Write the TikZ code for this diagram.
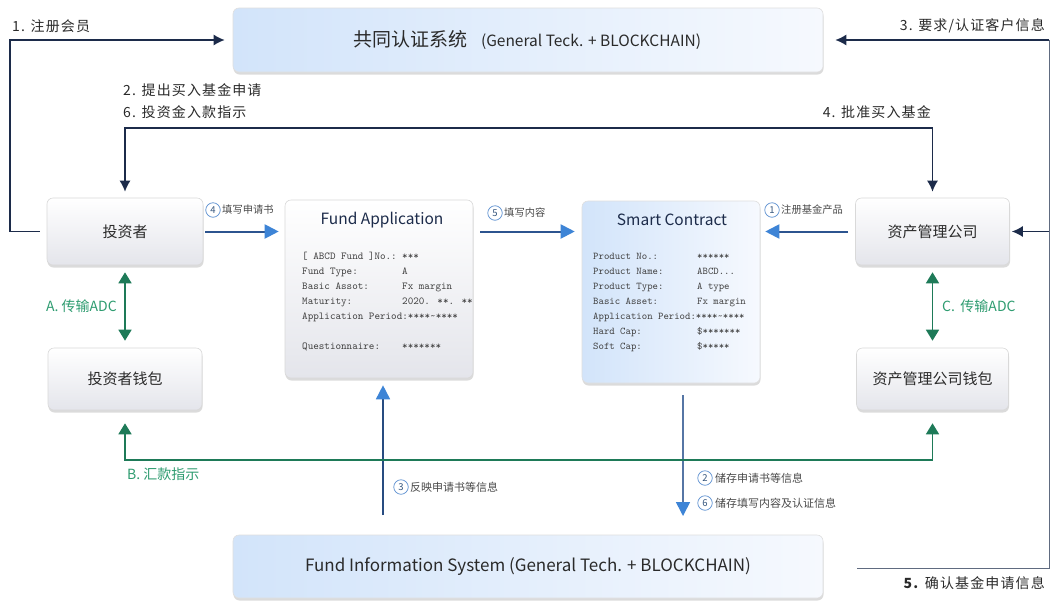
\documentclass[tikz,border=0pt]{standalone}
\usepackage{fontspec}
\setmainfont{Noto Sans CJK SC}
\usetikzlibrary{arrows.meta,shadows,positioning}
\definecolor{navy}{HTML}{1C2B4A}
\definecolor{gbox}{HTML}{E4E5EB}
\definecolor{bbox}{HTML}{D2E4FA}
\definecolor{bboxr}{HTML}{F6F9FE}
\definecolor{ablue}{HTML}{3D84D6}
\definecolor{aline}{HTML}{2C548F}
\definecolor{agreen}{HTML}{1E7A58}
\definecolor{tgreen}{HTML}{2E9C70}
\definecolor{cblue}{HTML}{5A8FD0}
\definecolor{tgray}{HTML}{2A2A2A}
\begin{document}
\begin{tikzpicture}[x=1pt,y=-1pt,
  gbx/.style={draw=gray!30, line width=0.6pt, rounded corners=6pt,
    top color=white, bottom color=gbox, text=tgray,
    drop shadow={opacity=0.28, shadow xshift=0.5pt, shadow yshift=-2.5pt}},
  bbx/.style={draw=gray!25, line width=0.6pt, rounded corners=6pt,
    left color=bbox, right color=bboxr, text=tgray,
    drop shadow={opacity=0.28, shadow xshift=0.5pt, shadow yshift=-2.5pt}},
  nodetxt/.style={font=\fontsize{15}{18}\selectfont},
  lab/.style={font=\fontsize{14}{16}\selectfont\addfontfeature{LetterSpace=8}, text=tgray, inner sep=0pt},
  glab/.style={font=\fontsize{14}{16}\selectfont, text=tgreen, inner sep=0pt},
  slab/.style={font=\fontsize{10.3}{12}\selectfont, text=tgray!85, inner sep=0pt},
  sslab/.style={font=\fontsize{11}{12}\selectfont, text=tgray!85, inner sep=0pt},
  circ/.style={circle, draw=cblue, line width=0.7pt, inner sep=0pt, minimum size=14.5pt,
    font=\fontsize{9.5}{9.5}\selectfont, text=cblue!60!black},
  narr/.style={draw=navy, line width=1.4pt, -{Latex[length=11pt,width=11pt]}},
  nline/.style={draw=navy!70, line width=1pt},
  barr/.style={draw=aline, line width=2pt, -{Triangle[length=14pt,width=14pt,color=ablue]}},
  garr/.style={draw=agreen, line width=1.6pt,
    {Triangle[length=11pt,width=13pt]}-{Triangle[length=11pt,width=13pt]}},
  fld/.style={font=\ttfamily\fontsize{10.6}{12}\selectfont, text=tgray!90, anchor=base west, inner sep=0pt},
  sfld/.style={font=\ttfamily\fontsize{10.3}{12}\selectfont, text=tgray!90, anchor=base west, inner sep=0pt},
]
\useasboundingbox (0,0) rectangle (1051,600);
\fill[white] (0,0) rectangle (1051,600);

% main boxes
\node[bbx, minimum width=590pt, minimum height=64pt] (top) at (528,40) {};
\node[text=tgray] at (527,40) {\fontsize{19}{22}\selectfont 共同认证系统\hspace{14pt}\fontsize{15.5}{18}\selectfont (General Teck. + BLOCKCHAIN)};
\node[bbx, minimum width=590pt, minimum height=63pt, font=\fontsize{17}{20}\selectfont] (bot) at (528,566.5) {Fund Information System (General Tech. + BLOCKCHAIN)};

\node[gbx, nodetxt, minimum width=156pt, minimum height=67pt] (inv) at (125,231.5) {投资者};
\node[gbx, nodetxt, minimum width=154pt, minimum height=62pt] (invw) at (125,379) {投资者钱包};
\node[gbx, nodetxt, minimum width=154pt, minimum height=67pt] (am) at (932.5,231.5) {资产管理公司};
\node[gbx, nodetxt, minimum width=152pt, minimum height=62pt] (amw) at (932.5,379) {资产管理公司钱包};

\node[gbx, minimum width=188pt, minimum height=178pt] (fa) at (379,289) {};
\node[bbx, minimum width=178pt, minimum height=182pt] (sc) at (671,292) {};

% Fund Application content
\node[font=\fontsize{15.5}{18}\selectfont, text=navy] (fat) at (382,220) {Fund Application};
\node[fld] (f1) at (302,259) {[ ABCD Fund ]No.:};
\node[fld] at (402,259) {***};
\node[fld] at (302,274) {Fund Type:};
\node[fld] at (402,274) {A};
\node[fld] at (302,289) {Basic Assot:};
\node[fld] at (402,289) {Fx margin};
\node[fld] at (302,304) {Maturity:};
\node[fld] at (402,304) {2020. **. **};
\node[fld] at (302,319) {Application Period:****\textasciitilde****};
\node[fld] at (302,349) {Questionnaire:};
\node[fld] at (402,349) {*******};

% Smart Contract content
\node[font=\fontsize{15.5}{18}\selectfont, text=navy] (sct) at (672,220) {Smart Contract};
\node[sfld] at (593,259) {Product No.:};
\node[sfld] at (697,259) {******};
\node[sfld] at (593,274) {Product Name:};
\node[sfld] at (697,274) {ABCD...};
\node[sfld] at (593,289) {Product Type:};
\node[sfld] at (697,289) {A type};
\node[sfld] at (593,304) {Basic Asset:};
\node[sfld] at (697,304) {Fx margin};
\node[sfld] at (593,319) {Application Period:****\textasciitilde****};
\node[sfld] at (593,334) {Hard Cap:};
\node[sfld] at (697,334) {\$*******};
\node[sfld] at (593,349) {Soft Cap:};
\node[sfld] at (697,349) {\$*****};

% coordinates
\coordinate (c1) at (10,231.5);
\coordinate (c2) at (125,128);
\coordinate (c3) at (1049,40);
\coordinate (c3r) at (1049,231.5);
\coordinate (c5) at (1049,568);
\coordinate (c5l) at (857,568);
\coordinate (cB) at (125,460);
\coordinate (c3b) at (383,515);
\coordinate (c26t) at (683,395);
\coordinate (c26b) at (683,516);

% navy connectors
\draw[narr, shorten <=7pt, shorten >=8pt] (inv.west) -- (c1) |- (top.west);
\draw[narr, {Latex[length=11pt,width=11pt]}-{Latex[length=11pt,width=11pt]}, shorten <=6pt, shorten >=6pt] (inv.north) -- (c2) -| (am.north);
\draw[narr, shorten >=12pt] (c3) -- (top.east);
\draw[nline] (c3) -- (c5) -- (c5l);
\draw[narr, shorten >=2pt] (c3r) -- (am.east);

% navy labels
\node[lab, anchor=base west] at (12,31) {1. 注册会员};
\node[lab, anchor=base west] at (123,95) {2. 提出买入基金申请};
\node[lab, anchor=base west] at (123,117) {6. 投资金入款指示};
\node[lab, anchor=base east] at (931,117) {4. 批准买入基金};
\node[lab, anchor=base east] at (1045,30) {3. 要求/认证客户信息};
\node[lab, anchor=base east] at (1045,588) {\textbf{5.} 确认基金申请信息};

% blue connectors
\draw[barr, shorten <=2pt, shorten >=6pt] (inv.east) -- (inv.east -| fa.west);
\draw[barr, shorten <=7pt, shorten >=7pt] (inv.east -| fa.east) -- (inv.east -| sc.west);
\draw[barr, shorten <=7pt, shorten >=5pt] (am.west) -- (am.west -| sc.east);
\draw[barr, line width=1.6pt, draw=aline!90!black, shorten >=7pt] (c3b) -- (c3b |- fa.south);
\draw[barr, line width=1.6pt, draw=aline!80] (c26t) -- (c26b);

\node[circ] (n4) at (213,210) {4};
\node[slab, anchor=west] at (222,210) {填写申请书};
\node[circ] (n5) at (495,213) {5};
\node[slab, anchor=west] at (504,213) {填写内容};
\node[circ] (n1) at (772,210) {1};
\node[slab, anchor=west] at (781,210) {注册基金产品};
\node[circ] (n3) at (401,487) {3};
\node[sslab, anchor=west] at (410,487) {反映申请书等信息};
\node[circ] (n2) at (705,478) {2};
\node[sslab, anchor=west] at (715,478) {储存申请书等信息};
\node[circ] (n6) at (705,503) {6};
\node[sslab, anchor=west] at (715,503) {储存填写内容及认证信息};

% green connectors
\draw[garr, shorten <=7pt, shorten >=7pt] (inv.south) -- (invw.north);
\draw[garr, shorten <=7pt, shorten >=7pt] (am.south) -- (amw.north);
\draw[garr, shorten <=13pt, shorten >=13pt] (invw.south) -- (cB) -| (amw.south);
\node[glab, anchor=east] at (117,306) {A. 传输ADC};
\node[glab, anchor=west] at (942,306) {C.\, 传输ADC};
\node[glab, anchor=west] at (127,474) {B. 汇款指示};
\end{tikzpicture}
\end{document}
